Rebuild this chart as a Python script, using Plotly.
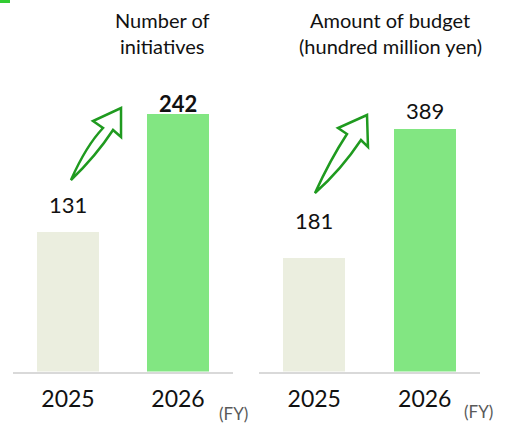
import plotly.graph_objects as go

years = ["2025", "2026"]
initiatives = [131, 242]
budget = [181, 389]
bar_colors = ["#ebeedf", "#82e682"]
title_left = ["Number of", "initiatives"]
title_right = ["Amount of budget", "(hundred million yen)"]

W, H = 507, 424
FONT = "Lato, 'Noto Sans', sans-serif"

def px(x):
    return x / W

def py(y):
    return 1 - y / H

base = 371.5
fig = go.Figure()
fig.add_trace(go.Bar(x=years, y=initiatives, marker=dict(color=bar_colors, line=dict(width=0)),
                     width=0.56, xaxis="x", yaxis="y", showlegend=False, hoverinfo="skip"))
fig.add_trace(go.Bar(x=years, y=budget, marker=dict(color=bar_colors, line=dict(width=0)),
                     width=0.56, xaxis="x2", yaxis="y2", showlegend=False, hoverinfo="skip"))

axis_common = dict(showgrid=False, zeroline=False, showline=True, linecolor="#d9d9d9", linewidth=1.5,
                   tickfont=dict(family=FONT, size=23, color="#111"), ticks="", fixedrange=True,
                   ticklabelstandoff=6)
yaxis_common = dict(visible=False, showgrid=False, zeroline=False, fixedrange=True)

fig.update_layout(
    width=W, height=H, margin=dict(l=0, r=0, t=0, b=0),
    paper_bgcolor="white", plot_bgcolor="white", bargap=0,
    xaxis=dict(domain=[px(13), px(233)], range=[-0.5, 1.5], type="category", **axis_common),
    xaxis2=dict(domain=[px(259), px(480)], range=[-0.5, 1.5], type="category", anchor="y2", **axis_common),
    yaxis=dict(domain=[py(base), 1], range=[0, base / 1.063], anchor="x", **yaxis_common),
    yaxis2=dict(domain=[py(base), 1], range=[0, base / 0.6245], anchor="x2", **yaxis_common),
)

# value labels (x given as category index)
shifts_left = [28, 11]
shifts_right = [38, 18]
for i, v in enumerate(initiatives):
    txt = f"<b>{v}</b>" if i == 1 else str(v)
    fig.add_annotation(x=i, y=v, xref="x", yref="y", text=txt, showarrow=False,
                       yanchor="middle", yshift=shifts_left[i],
                       font=dict(family=FONT, size=22, color="#111"))
for i, v in enumerate(budget):
    fig.add_annotation(x=i, y=v, xref="x2", yref="y2", text=str(v), showarrow=False,
                       yanchor="middle", yshift=shifts_right[i],
                       font=dict(family=FONT, size=22, color="#111"))

# titles
for line, yy in zip(title_left, [20, 46]):
    fig.add_annotation(x=px(162), y=py(yy), xref="paper", yref="paper", text=line, showarrow=False,
                       xanchor="center", yanchor="middle", font=dict(family=FONT, size=20, color="#111"))
for line, yy in zip(title_right, [20, 46]):
    fig.add_annotation(x=px(390), y=py(yy), xref="paper", yref="paper", text=line, showarrow=False,
                       xanchor="center", yanchor="middle", font=dict(family=FONT, size=20, color="#111"))

# (FY)
for xx, yy in [(233, 413), (478, 411)]:
    fig.add_annotation(x=px(xx), y=py(yy), xref="paper", yref="paper", text="(FY)", showarrow=False,
                       xanchor="center", yanchor="middle", font=dict(family=FONT, size=17, color="#595959"))

# decorative arrows (pixel paths)
def path(points_cmds):
    out = []
    for cmd, pts in points_cmds:
        coords = " ".join(f"{px(x):.4f},{py(y):.4f}" for x, y in pts)
        out.append(f"{cmd} {coords}")
    return " ".join(out) + " Z"

arrow_left = [("M", [(71, 180)]), ("Q", [(86, 146), (103, 128)]), ("L", [(93, 121)]), ("L", [(121, 108)]),
              ("L", [(121, 137)]), ("L", [(113, 130)]), ("Q", [(96, 156), (71, 180)])]
arrow_right = [("M", [(315, 193)]), ("Q", [(330, 160), (347, 134)]), ("L", [(338, 128)]), ("L", [(367, 115)]),
               ("L", [(368, 147)]), ("L", [(361, 140)]), ("Q", [(341, 170), (315, 193)])]
for a in (arrow_left, arrow_right):
    fig.add_shape(type="path", xref="paper", yref="paper", path=path(a),
                  line=dict(color="#1f9a1f", width=2.5), fillcolor="white")

# small green mark at top-left
fig.add_shape(type="rect", xref="paper", yref="paper", x0=0, x1=px(10), y0=py(3), y1=1,
              line=dict(width=0), fillcolor="#33cc33")

fig.write_html("out.html")
